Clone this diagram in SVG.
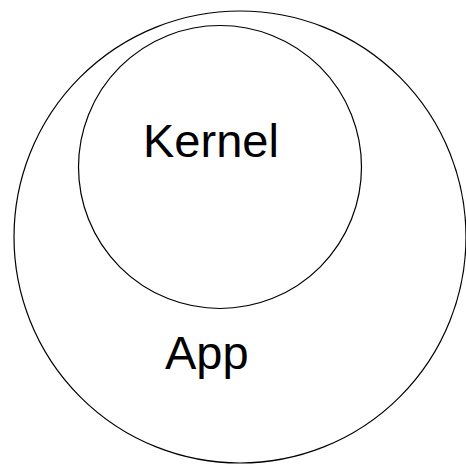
<svg xmlns="http://www.w3.org/2000/svg" width="466" height="466" viewBox="0 0 466 466">
<style>
.c{fill:none;stroke:#000;stroke-width:1.2}
.t{font-family:"Liberation Sans",Arial,sans-serif;font-size:47px;fill:#000}
</style>
<rect width="466" height="466" fill="#fff"/>
<g id="app"><circle class="c" cx="240" cy="237" r="226"/><text class="t" x="165" y="369">App</text></g>
<g id="kernel"><circle class="c" cx="220" cy="167" r="141.5"/><text class="t" x="143" y="157">Kernel</text></g>
<g id="connectors"/>
</svg>
